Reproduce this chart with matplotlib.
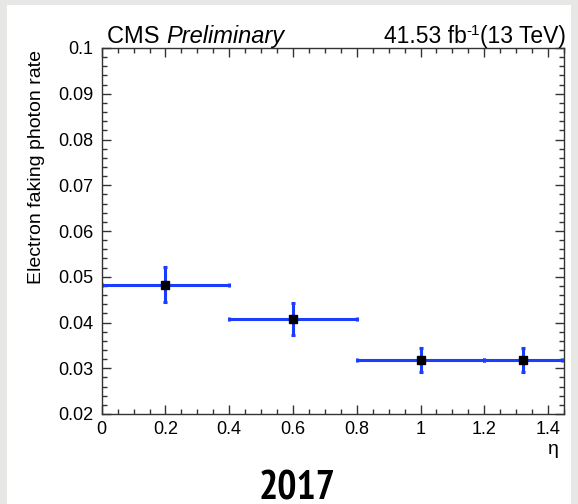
import matplotlib
matplotlib.use("Agg")
import matplotlib.pyplot as plt
from matplotlib.patches import Rectangle
from matplotlib.ticker import MultipleLocator

# eta bins and measured electron -> photon fake rate
eta_edges = [0.0, 0.4, 0.8, 1.2, 1.4442]
fake_rate = [0.0483, 0.0408, 0.0318, 0.0318]
fake_rate_err = [0.0039, 0.0035, 0.0027, 0.0027]

year_label = "2017"

plt.rcParams['font.family'] = ['Liberation Sans', 'DejaVu Sans']

W, H = 578, 504
fig = plt.figure(figsize=[W / 100, H / 100], dpi=100)
fig.patch.set_facecolor('#e7e7e5')

# white slide panel behind everything
fig.patches.append(Rectangle((7 / W, 0), (571 - 7) / W, 1 - 5 / H,
                             transform=fig.transFigure, facecolor='white',
                             edgecolor='none', zorder=-10))

ax = fig.add_axes([101.7 / W, 1 - 414 / H, (564 - 101.7) / W, (414 - 48) / H])
ax.set_zorder(2)

centers = [(lo + hi) / 2 for lo, hi in zip(eta_edges[:-1], eta_edges[1:])]
half_w = [(hi - lo) / 2 for lo, hi in zip(eta_edges[:-1], eta_edges[1:])]

blue = '#1a3dff'
ax.errorbar(centers, fake_rate, xerr=half_w, yerr=fake_rate_err,
            fmt='none', ecolor=blue, elinewidth=2.2, capsize=1.6, capthick=2.2,
            zorder=2)
ax.plot(centers, fake_rate, linestyle='none', marker='s', markersize=6.2,
        color='black', zorder=3)

ax.set_xlim(0, 1.45)
ax.set_ylim(0.02, 0.1)

ax.xaxis.set_minor_locator(MultipleLocator(0.05))
ax.yaxis.set_minor_locator(MultipleLocator(0.002))

ax.set_xticks([0, 0.2, 0.4, 0.6, 0.8, 1.0, 1.2, 1.4])
ax.set_xticklabels(['0', '0.2', '0.4', '0.6', '0.8', '1', '1.2', '1.4'])
ax.set_yticks([0.02, 0.03, 0.04, 0.05, 0.06, 0.07, 0.08, 0.09, 0.1])
ax.set_yticklabels(['0.02', '0.03', '0.04', '0.05', '0.06', '0.07', '0.08', '0.09', '0.1'])

ax.tick_params(which='both', direction='in', top=True, right=True,
               color='#333333', width=1.0, labelsize=13)
ax.tick_params(which='major', length=6.5)
ax.tick_params(which='minor', length=3.3)
ax.tick_params(axis='x', pad=5)
ax.tick_params(axis='y', pad=6)
for s in ax.spines.values():
    s.set_linewidth(1.0)
    s.set_color('#333333')

fig.text(37 / W, 1 - 50 / H, "Electron faking photon rate", rotation=90,
         ha='center', va='top', fontsize=14)
fig.text(559 / W, 1 - 449 / H, "η", ha='right', va='center', fontsize=14)

# CMS header, left part
base = 1 - 43 / H
t = fig.text(107 / W, base, "CMS ", ha='left', va='baseline', fontsize=17)
fig.canvas.draw()
bb = t.get_window_extent()
fig.text(bb.x1 / W, base, "Preliminary", ha='left', va='baseline',
         fontsize=17, style='italic')

# luminosity label, built right to left so it ends at the frame edge
r = fig.text(566 / W, base, "(13 TeV)", ha='right', va='baseline', fontsize=16.5)
fig.canvas.draw()
x0 = r.get_window_extent().x0
s = fig.text(x0 / W, base + 8 / H, "-1", ha='right', va='baseline', fontsize=11)
fig.canvas.draw()
x0 = s.get_window_extent().x0
fig.text(x0 / W, base, "41.53 fb", ha='right', va='baseline', fontsize=16.5)

fig.text(297 / W, 1 - 499 / H, year_label, ha='center', va='baseline',
         fontsize=29, fontweight='bold',
         family=['PT Sans Narrow', 'Roboto Condensed', 'Liberation Sans'])

fig.savefig('out.png', dpi=100, facecolor=fig.get_facecolor())
